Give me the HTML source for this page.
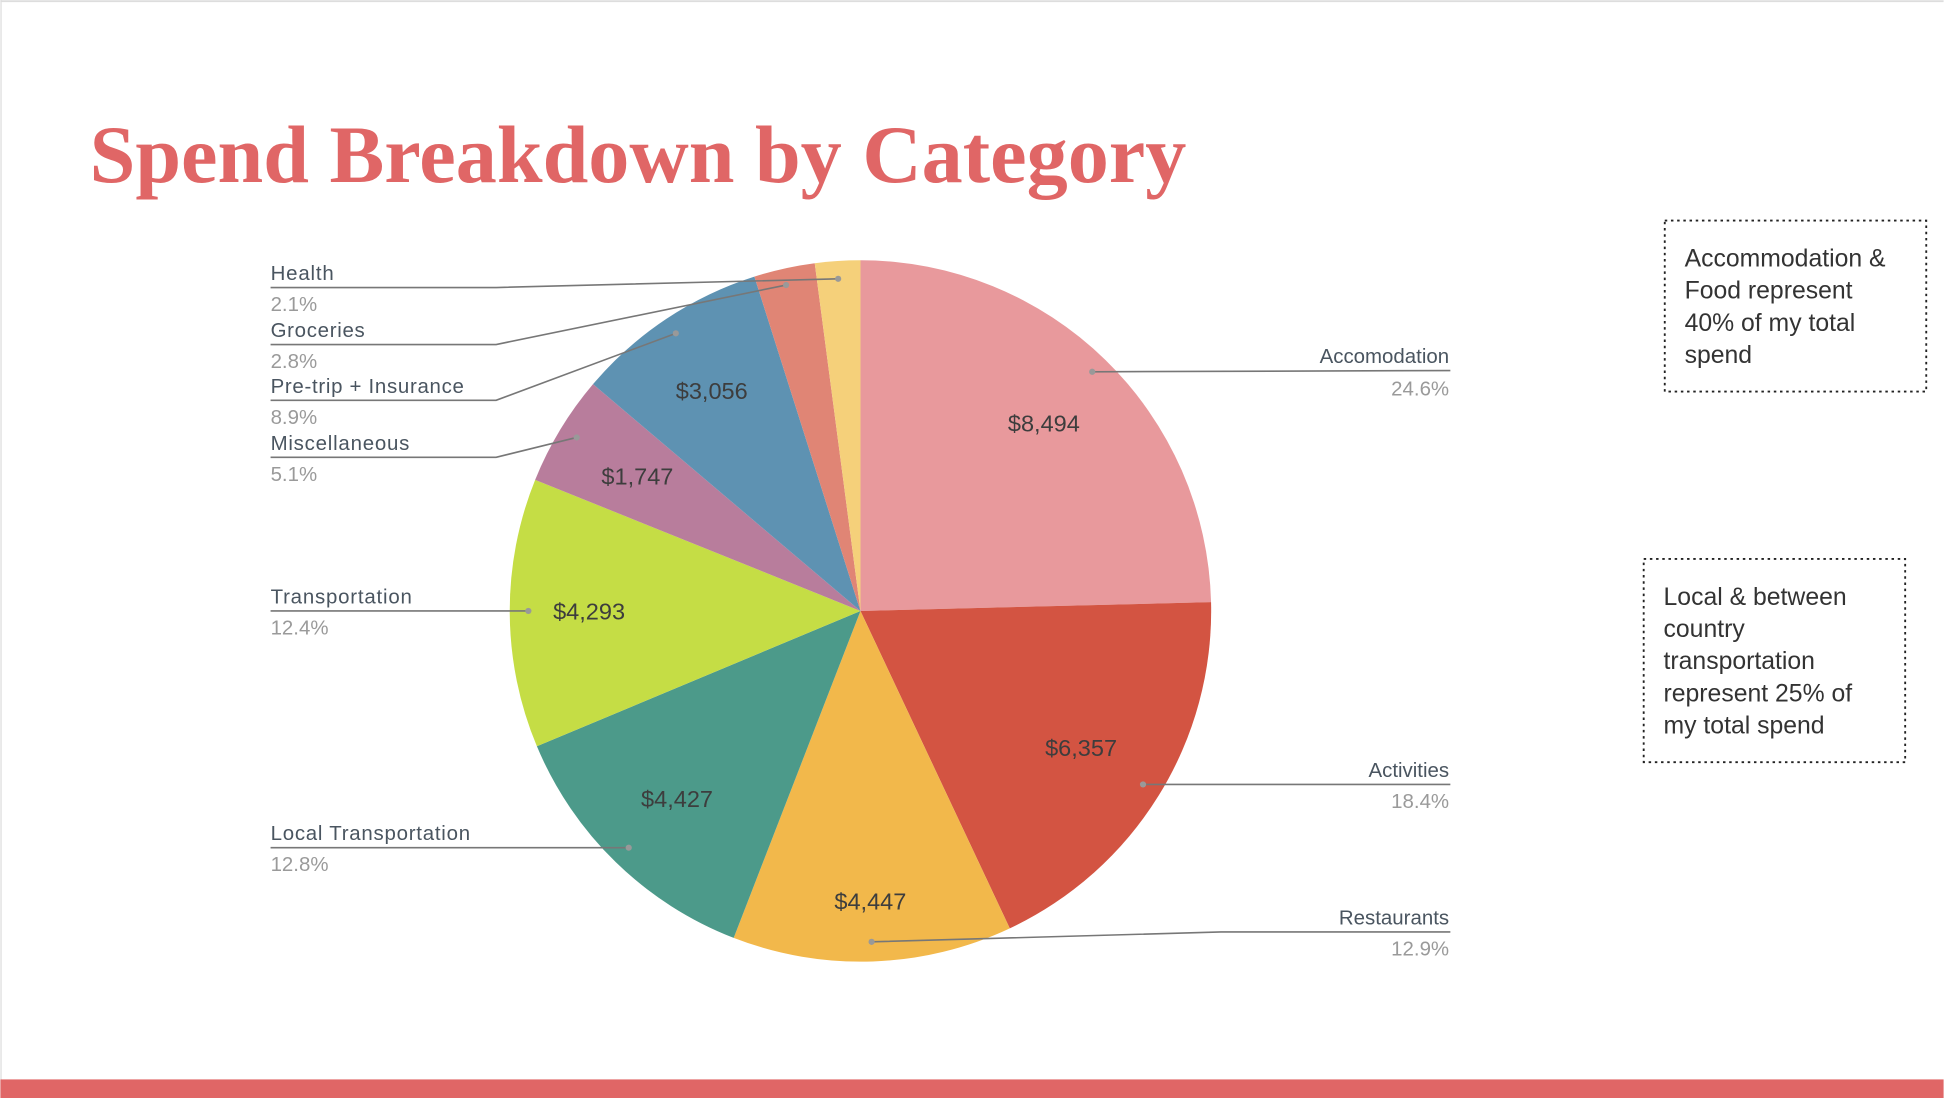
<!DOCTYPE html>
<html><head><meta charset="utf-8"><style>
html,body{margin:0;padding:0;background:#fff;}
svg{display:block;}
text{font-family:"Liberation Sans",sans-serif;}
.lbl{font-size:16.5px;fill:#4a5560;}
.pct{font-size:16.5px;fill:#9a9a9a;}
.val{font-size:19px;fill:#3d3d3d;}
.ln{stroke:#777;stroke-width:1.3;fill:none;}
.dot{fill:#999;}
.note{font-size:20px;fill:#333;}
</style></head><body>
<svg width="1944" height="1098" viewBox="0 0 1568 886" xmlns="http://www.w3.org/2000/svg">
<rect x="0" y="0" width="1568" height="886" fill="#fff"/>
<line x1="0" y1="1" x2="1568" y2="1" stroke="#ddd" stroke-width="1.5"/>
<line x1="0.5" y1="0" x2="0.5" y2="886" stroke="#ddd" stroke-width="1"/>
<text x="72" y="147" textLength="885" lengthAdjust="spacingAndGlyphs" style="font-family:'Liberation Serif',serif;font-weight:bold;font-size:66px;fill:#e06666">Spend Breakdown by Category</text>

<g>
<path d="M694,493 L694,210 A283,283 0 0 1 976.9,485.9 Z" fill="#e8999c"/>
<path d="M694,493 L976.9,485.9 A283,283 0 0 1 814.5,749.1 Z" fill="#d35442"/>
<path d="M694,493 L814.5,749.1 A283,283 0 0 1 591.7,756.8 Z" fill="#f2b84b"/>
<path d="M694,493 L591.7,756.8 A283,283 0 0 1 432.9,602.2 Z" fill="#4c9a8a"/>
<path d="M694,493 L432.9,602.2 A283,283 0 0 1 431.5,387.2 Z" fill="#c5dd45"/>
<path d="M694,493 L431.5,387.2 A283,283 0 0 1 478.2,310 Z" fill="#b87d9c"/>
<path d="M694,493 L478.2,310 A283,283 0 0 1 608.4,223.2 Z" fill="#5e92b2"/>
<path d="M694,493 L608.4,223.2 A283,283 0 0 1 657.1,212.4 Z" fill="#e08575"/>
<path d="M694,493 L657.1,212.4 A283,283 0 0 1 694,210 Z" fill="#f5d07a"/>
</g>

<text class="val" x="842" y="348" text-anchor="middle">$8,494</text>
<text class="val" x="872" y="610" text-anchor="middle">$6,357</text>
<text class="val" x="702" y="734" text-anchor="middle">$4,447</text>
<text class="val" x="546" y="651" text-anchor="middle">$4,427</text>
<text class="val" x="475" y="500" text-anchor="middle">$4,293</text>
<text class="val" x="514" y="391" text-anchor="middle">$1,747</text>
<text class="val" x="574" y="322" text-anchor="middle">$3,056</text>

<polyline class="ln" points="218,232 400,232 676,225"/><circle class="dot" cx="676" cy="225" r="2.5"/>
<polyline class="ln" points="218,278 400,278 634,230"/><circle class="dot" cx="634" cy="230" r="2.5"/>
<polyline class="ln" points="218,323 400,323 545,269"/><circle class="dot" cx="545" cy="269" r="2.5"/>
<polyline class="ln" points="218,369 400,369 465,353"/><circle class="dot" cx="465" cy="353" r="2.5"/>
<polyline class="ln" points="218,493 426,493"/><circle class="dot" cx="426" cy="493" r="2.5"/>
<polyline class="ln" points="218,684 507,684"/><circle class="dot" cx="507" cy="684" r="2.5"/>
<polyline class="ln" points="1170,299 881,300"/><circle class="dot" cx="881" cy="300" r="2.5"/>
<polyline class="ln" points="1170,633 922,633"/><circle class="dot" cx="922" cy="633" r="2.5"/>
<polyline class="ln" points="1170,752 985,752 703,760"/><circle class="dot" cx="703" cy="760" r="2.5"/>

<text class="lbl" x="218" y="226" textLength="51">Health</text><text class="pct" x="218" y="251">2.1%</text>
<text class="lbl" x="218" y="272" textLength="76">Groceries</text><text class="pct" x="218" y="297">2.8%</text>
<text class="lbl" x="218" y="317" textLength="156">Pre-trip + Insurance</text><text class="pct" x="218" y="342">8.9%</text>
<text class="lbl" x="218" y="363" textLength="112">Miscellaneous</text><text class="pct" x="218" y="388">5.1%</text>
<text class="lbl" x="218" y="487" textLength="114">Transportation</text><text class="pct" x="218" y="512">12.4%</text>
<text class="lbl" x="218" y="678" textLength="161">Local Transportation</text><text class="pct" x="218" y="703">12.8%</text>
<text class="lbl" x="1169" y="293" text-anchor="end">Accomodation</text><text class="pct" x="1169" y="319" text-anchor="end">24.6%</text>
<text class="lbl" x="1169" y="627" text-anchor="end">Activities</text><text class="pct" x="1169" y="652" text-anchor="end">18.4%</text>
<text class="lbl" x="1169" y="746" text-anchor="end">Restaurants</text><text class="pct" x="1169" y="771" text-anchor="end">12.9%</text>

<rect x="1343" y="178" width="211" height="138" fill="none" stroke="#222" stroke-width="1.5" stroke-dasharray="2,3"/>
<text class="note" x="1359" y="215">Accommodation &amp;</text>
<text class="note" x="1359" y="241">Food represent</text>
<text class="note" x="1359" y="267">40% of my total</text>
<text class="note" x="1359" y="293">spend</text>

<rect x="1326" y="451" width="211" height="164" fill="none" stroke="#222" stroke-width="1.5" stroke-dasharray="2,3"/>
<text class="note" x="1342" y="488">Local &amp; between</text>
<text class="note" x="1342" y="514">country</text>
<text class="note" x="1342" y="540">transportation</text>
<text class="note" x="1342" y="566">represent 25% of</text>
<text class="note" x="1342" y="592">my total spend</text>

<rect x="0" y="871" width="1568" height="15" fill="#e06666"/>
</svg>
</body></html>
